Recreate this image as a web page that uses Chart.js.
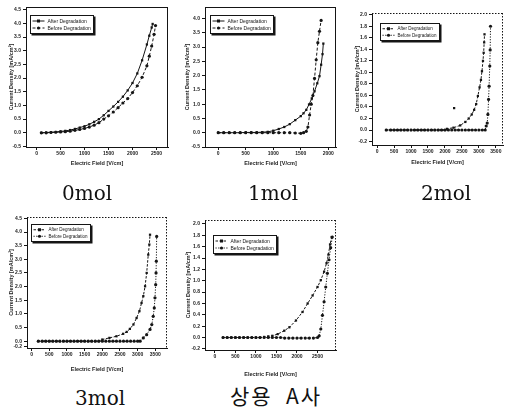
<!DOCTYPE html>
<html>
<head>
<meta charset="utf-8">
<script src="https://cdn.jsdelivr.net/npm/chart.js@4/dist/chart.umd.min.js"></script>
<style>
  html, body { margin:0; padding:0; background:#fff; }
  body { width:507px; height:411px; position:relative; overflow:hidden; }
  canvas { position:absolute; }
  .cap { position:absolute; line-height:1; color:#111; white-space:pre;
         font-family:"DejaVu Serif","Liberation Serif",serif; font-size:20px; }
  .capk { font-family:"Noto Sans CJK KR","DejaVu Serif",sans-serif; font-size:21px; letter-spacing:2px; }
</style>
</head>
<body>
<canvas id="c1" width="172" height="172" style="left:0px;top:0px"></canvas>
<canvas id="c2" width="168" height="172" style="left:172px;top:0px"></canvas>
<canvas id="c3" width="167" height="172" style="left:340px;top:0px"></canvas>
<canvas id="c4" width="172" height="176" style="left:0px;top:200px"></canvas>
<canvas id="c5" width="168" height="180" style="left:172px;top:200px"></canvas>
<div class="cap" style="left:62px;top:183px">0mol</div>
<div class="cap" style="left:248px;top:183px">1mol</div>
<div class="cap" style="left:421px;top:183px">2mol</div>
<div class="cap" style="left:75px;top:388px">3mol</div>
<div class="cap capk" style="left:230px;top:385px">상용  A사</div>
<script>
// ---------- labels ----------
const captions = ['0mol', '1mol', '2mol', '3mol', '상용 A사'];
const seriesNames = ['After Degradation', 'Before Degradation'];
const xTitle = 'Electric Field [V/cm]';
const yTitle = 'Current Density [mA/cm²]';

// ---------- chart 1 : 0mol ----------
const xTicks1 = [0, 500, 1000, 1500, 2000, 2500];
const yTicks1 = [-0.5, 0.0, 0.5, 1.0, 1.5, 2.0, 2.5, 3.0, 3.5, 4.0, 4.5];
const field1After = [100,200,300,400,500,600,700,800,900,1000,1100,1200,1300,1400,1500,1600,1700,1800,1900,2000,2100,2200,2300,2350,2400,2420];
const density1After = [0.00,0.01,0.02,0.03,0.05,0.07,0.10,0.14,0.19,0.24,0.31,0.40,0.50,0.64,0.80,0.96,1.13,1.32,1.55,1.82,2.17,2.65,3.23,3.55,3.85,3.98];
const field1Before = [100,200,300,400,500,600,700,800,900,1000,1100,1200,1300,1400,1500,1600,1700,1800,1900,2000,2100,2200,2300,2350,2400,2450,2480];
const density1Before = [0.00,0.00,0.01,0.02,0.03,0.04,0.06,0.09,0.12,0.16,0.21,0.28,0.37,0.50,0.62,0.76,0.92,1.09,1.25,1.47,1.72,2.03,2.45,2.80,3.17,3.60,3.92];

// ---------- chart 2 : 1mol ----------
const xTicks2 = [0, 500, 1000, 1500, 2000];
const yTicks2 = [-0.5, 0.0, 0.5, 1.0, 1.5, 2.0, 2.5, 3.0, 3.5, 4.0];
const field2After = [0,100,200,300,400,500,600,700,800,900,1000,1100,1200,1300,1400,1500,1550,1600,1650,1700,1750,1800,1840,1870,1895,1910];
const density2After = [0,0,0,0,0,0.01,0.01,0.01,0.02,0.03,0.07,0.13,0.20,0.30,0.44,0.58,0.68,0.80,0.99,1.20,1.45,1.73,1.98,2.38,2.75,3.12];
const field2Before = [0,100,200,300,400,500,600,700,800,900,1000,1100,1200,1300,1400,1500,1550,1600,1630,1660,1690,1720,1750,1780,1810,1840,1870];
const density2Before = [0,0,0,0,0,0,0,0,0,0,0,0,0,0,-0.01,-0.02,0.00,0.05,0.20,0.62,1.00,1.30,1.90,2.55,3.15,3.55,3.93];

// ---------- chart 3 : 2mol ----------
const xTicks3 = [0, 500, 1000, 1500, 2000, 2500, 3000, 3500];
const yTicks3 = [-0.2, 0.0, 0.2, 0.4, 0.6, 0.8, 1.0, 1.2, 1.4, 1.6, 1.8, 2.0];
const field3After = [270,400,500,600,700,800,900,1000,1100,1200,1300,1400,1500,1600,1700,1800,1900,2000,2060,2250,2450,2600,2700,2790,2860,2920,2970,3020,3060,3090,3120,3140,3155,3165];
const density3After = [0,0,0,0,0,0,0,0,0,0,0,0,0,0,0,0,0,0,0.02,0.04,0.08,0.14,0.20,0.27,0.35,0.45,0.59,0.74,0.87,1.02,1.20,1.34,1.52,1.66];
const field3Before = [270,400,500,600,700,800,900,1000,1100,1200,1300,1400,1500,1600,1700,1800,1900,2000,2100,2200,2300,2400,2500,2600,2700,2800,2900,3000,3100,3185,3215,3245,3265,3285,3300,3320,3332,3342];
const density3Before = [0,0,0,0,0,0,0,0,0,0,0,0,0,0,0,0,0,0,0,0,0,0,0,0,0,0,0,0,0,0,0.07,0.12,0.27,0.53,0.76,1.11,1.39,1.80];
const field3Stray = [2270];
const density3Stray = [0.38];

// ---------- chart 4 : 3mol ----------
const xTicks4 = [0, 500, 1000, 1500, 2000, 2500, 3000, 3500];
const yTicks4 = [-0.2, 0.0, 0.5, 1.0, 1.5, 2.0, 2.5, 3.0, 3.5, 4.0, 4.5];
const field4After = [190,300,400,500,600,700,800,900,1000,1100,1200,1300,1400,1500,1600,1700,1800,1900,2000,2200,2400,2590,2690,2780,2880,2970,3050,3110,3160,3210,3255,3300,3330,3350];
const density4After = [0,0,0,0,0,0,0,0,0,0,0,0,0,0,0,0,0,0,0.06,0.12,0.18,0.27,0.34,0.45,0.61,0.85,1.10,1.40,1.65,2.01,2.50,3.17,3.54,3.90];
const field4Before = [190,300,400,500,600,700,800,900,1000,1100,1200,1300,1400,1500,1600,1700,1800,1900,2000,2100,2200,2300,2400,2500,2600,2700,2800,2900,3000,3070,3160,3255,3350,3400,3440,3470,3490,3510,3520,3528,3538];
const density4Before = [0,0,0,0,0,0,0,0,0,0,0,0,0,0,0,0,0,0,0,0,0,0,0,0,0,0,0,0,0,0,0.12,0.24,0.43,0.61,0.91,1.22,1.59,2.07,2.50,2.93,3.84];

// ---------- chart 5 : commercial A ----------
const xTicks5 = [0, 500, 1000, 1500, 2000, 2500];
const yTicks5 = [-0.2, 0.0, 0.2, 0.4, 0.6, 0.8, 1.0, 1.2, 1.4, 1.6, 1.8, 2.0];
const field5After = [200,300,400,500,600,700,800,900,1000,1100,1200,1300,1400,1530,1690,1815,1975,2135,2260,2380,2500,2580,2660,2720,2765,2805,2845];
const density5After = [0,0,0,0,0,0,0,0,0,0,0.01,0.02,0.03,0.06,0.12,0.18,0.30,0.45,0.60,0.74,0.89,1.01,1.16,1.31,1.46,1.64,1.77];
const field5Before = [200,300,400,500,600,700,800,900,1000,1100,1200,1300,1400,1500,1600,1700,1800,1900,2000,2100,2200,2300,2400,2500,2540,2580,2620,2660,2700,2740,2780,2820,2860];
const density5Before = [0,0,0,0,0,0,0,0,0,0,0,0,0,0,0,-0.01,-0.01,-0.01,-0.01,-0.01,-0.01,-0.01,-0.01,0.00,0.03,0.15,0.39,0.63,0.89,1.13,1.37,1.58,1.77];

// ---------- helpers ----------
const INK = '#151515';
const FONT = '"Liberation Sans", Arial, sans-serif';

function pts(xs, ys) { return xs.map((x, i) => ({ x: x, y: ys[i] })); }

function series(label, xs, ys, style, dash) {
  return {
    label: label, data: pts(xs, ys), showLine: true,
    borderColor: INK, backgroundColor: INK, borderWidth: 1, borderDash: dash,
    pointStyle: style, pointRadius: 1.6, pointBorderWidth: 0, pointBackgroundColor: INK,
    tension: 0
  };
}

const framePlugin = {
  id: 'frame',
  afterDraw(chart, args, opts) {
    const { ctx, chartArea: a } = chart;
    ctx.save();
    ctx.strokeStyle = INK; ctx.lineWidth = 1;
    ctx.setLineDash(opts.dash || []);
    ctx.beginPath();
    ctx.moveTo(a.left, Math.round(a.top) + 0.5); ctx.lineTo(a.right, Math.round(a.top) + 0.5);
    ctx.moveTo(Math.round(a.right) - 0.5, a.top); ctx.lineTo(Math.round(a.right) - 0.5, a.bottom);
    ctx.stroke();
    ctx.restore();
  }
};

const boxLegendPlugin = {
  id: 'boxLegend',
  afterDraw(chart, args, opts) {
    const { ctx, chartArea: a } = chart;
    const size = opts.size || 5;
    const ds = chart.data.datasets.slice(0, 2);
    ctx.save();
    ctx.font = size + 'px ' + FONT;
    const tw = Math.max(...ds.map(d => ctx.measureText(d.label).width));
    const rowH = size + 2;
    const x = Math.round(a.left + opts.dx) + 0.5, y = Math.round(a.top + opts.dy) + 0.5;
    const w = Math.round(17 + tw + 3), h = Math.round(rowH * 2 + 4);
    ctx.fillStyle = INK; ctx.fillRect(x + 1, y + 1, w + 1, h + 1);
    ctx.fillStyle = '#fff'; ctx.fillRect(x, y, w, h);
    ctx.strokeStyle = INK; ctx.lineWidth = 1; ctx.strokeRect(x, y, w, h);
    ds.forEach((d, i) => {
      const yy = y + 2 + rowH * (i + 0.5);
      ctx.setLineDash(d.borderDash || []);
      ctx.beginPath(); ctx.moveTo(x + 2, yy); ctx.lineTo(x + 14, yy); ctx.stroke();
      ctx.setLineDash([]);
      ctx.fillStyle = INK;
      if (d.pointStyle === 'rect') ctx.fillRect(x + 6.5, yy - 1.5, 3, 3);
      else { ctx.beginPath(); ctx.arc(x + 8, yy, 1.6, 0, Math.PI * 2); ctx.fill(); }
      ctx.textBaseline = 'middle'; ctx.textAlign = 'left';
      ctx.fillText(d.label, x + 17, yy + 0.5);
    });
    ctx.restore();
  }
};

function makeChart(id, s) {
  const tickFont = { size: 5, family: FONT, weight: 'bold' };
  const titleFont = { size: 5.5, family: FONT, weight: 'bold' };
  return new Chart(document.getElementById(id), {
    type: 'scatter',
    data: { datasets: s.datasets },
    options: {
      responsive: false, animation: false, devicePixelRatio: 1,
      layout: { padding: { top: s.padTop, right: s.padRight, left: 0, bottom: 0 } },
      plugins: {
        legend: { display: false }, tooltip: { enabled: false },
        frame: { dash: s.frameDash },
        boxLegend: { dx: s.legend[0], dy: s.legend[1], size: s.legend[2] }
      },
      scales: {
        x: {
          type: 'linear', min: s.xMin, max: s.xMax,
          afterBuildTicks: sc => { sc.ticks = s.xTicks.map(v => ({ value: v })); },
          afterFit: sc => { sc.height = s.xAxisH; },
          ticks: { font: tickFont, color: '#222', padding: 1, maxRotation: 0, autoSkip: false,
                   callback: v => String(v) },
          grid: { drawOnChartArea: false, drawTicks: true, tickLength: 3, color: INK, tickWidth: 1 },
          border: { color: INK, width: 1 },
          title: { display: true, text: xTitle, font: titleFont, color: '#222',
                   padding: { top: 0, bottom: s.xTitlePad } }
        },
        y: {
          type: 'linear', min: s.yMin, max: s.yMax,
          afterBuildTicks: sc => { sc.ticks = s.yTicks.map(v => ({ value: v })); },
          afterFit: sc => { sc.width = s.yAxisW; },
          ticks: { font: tickFont, color: '#222', padding: 2, autoSkip: false,
                   callback: v => Number(v).toFixed(1) },
          grid: { drawOnChartArea: false, drawTicks: true, tickLength: 3, color: INK, tickWidth: 1 },
          border: { color: INK, width: 1 },
          title: { display: true, text: yTitle, font: titleFont, color: '#222',
                   padding: { top: s.yTitlePad, bottom: 0 } }
        }
      }
    },
    plugins: [framePlugin, boxLegendPlugin]
  });
}

const solid = [], dashed = [3, 2], dotA = [2.5, 1.5], dotB = [1.2, 1.5];

makeChart('c1', {
  datasets: [series(seriesNames[0], field1After, density1After, 'rect', solid),
             series(seriesNames[1], field1Before, density1Before, 'circle', dashed)],
  xTicks: xTicks1, yTicks: yTicks1, xMin: -220, xMax: 2740, yMin: -0.52, yMax: 4.6,
  padTop: 7, padRight: 4, yAxisW: 26, xAxisH: 25, xTitlePad: 5, yTitlePad: 8,
  frameDash: [], legend: [4, 8, 5]
});
makeChart('c2', {
  datasets: [series(seriesNames[0], field2After, density2After, 'rect', solid),
             series(seriesNames[1], field2Before, density2Before, 'circle', dashed)],
  xTicks: xTicks2, yTicks: yTicks2, xMin: -240, xMax: 2140, yMin: -0.5, yMax: 4.4,
  padTop: 7, padRight: 3, yAxisW: 33, xAxisH: 25, xTitlePad: 5, yTitlePad: 12,
  frameDash: [], legend: [5, 8, 5]
});
const ds3 = [series(seriesNames[0], field3After, density3After, 'rect', dotA),
             series(seriesNames[1], field3Before, density3Before, 'circle', dotB),
             Object.assign(series('', field3Stray, density3Stray, 'rect', solid), { showLine: false })];
makeChart('c3', {
  datasets: ds3,
  xTicks: xTicks3, yTicks: yTicks3, xMin: -150, xMax: 3710, yMin: -0.26, yMax: 2.03,
  padTop: 13, padRight: 3, yAxisW: 32, xAxisH: 27, xTitlePad: 6, yTitlePad: 14,
  frameDash: [1.5, 1.5], legend: [8, 10, 4.5]
});
makeChart('c4', {
  datasets: [series(seriesNames[0], field4After, density4After, 'rect', dotA),
             series(seriesNames[1], field4Before, density4Before, 'circle', dotB)],
  xTicks: xTicks4, yTicks: yTicks4, xMin: -130, xMax: 3830, yMin: -0.25, yMax: 4.55,
  padTop: 17, padRight: 5, yAxisW: 27, xAxisH: 28, xTitlePad: 3.5, yTitlePad: 8,
  frameDash: [1.5, 1.5], legend: [4, 7, 4.5]
});
makeChart('c5', {
  datasets: [series(seriesNames[0], field5After, density5After, 'rect', dotA),
             series(seriesNames[1], field5Before, density5Before, 'circle', dotB)],
  xTicks: xTicks5, yTicks: yTicks5, xMin: -240, xMax: 2950, yMin: -0.22, yMax: 2.07,
  padTop: 20, padRight: 3, yAxisW: 33, xAxisH: 30, xTitlePad: 2.5, yTitlePad: 13,
  frameDash: [1.5, 1.5], legend: [8, 15, 5]
});
</script>
</body>
</html>
